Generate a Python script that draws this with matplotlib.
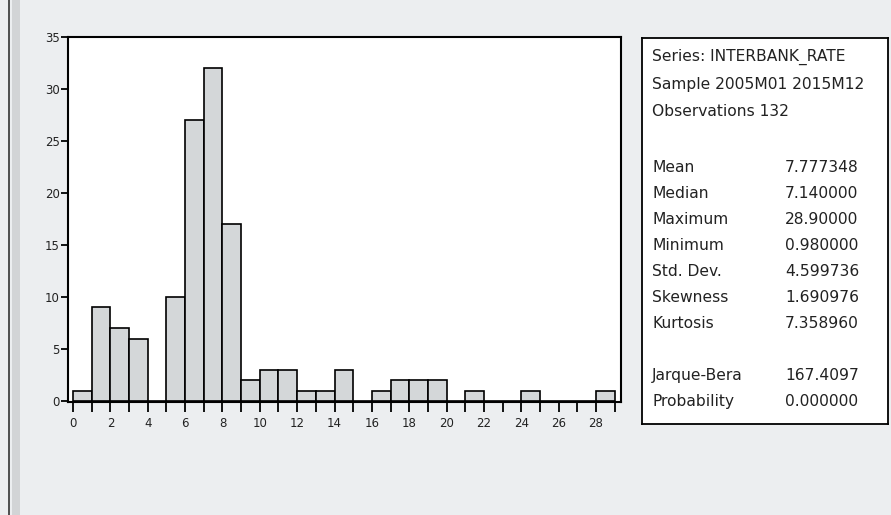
import numpy as np
import matplotlib.pyplot as plt
from matplotlib.patches import Rectangle
from matplotlib.lines import Line2D

# histogram of INTERBANK_RATE, bins of width 1 from 0 to 29
bin_left = np.arange(0, 29)
counts = [1, 9, 7, 6, 0, 10, 27, 32, 17, 2, 3, 3, 1, 1, 3, 0,
          1, 2, 2, 2, 0, 1, 0, 0, 1, 0, 0, 0, 1]

header = ["Series: INTERBANK_RATE", "Sample 2005M01 2015M12", "Observations 132"]
stat_names = ["Mean", "Median", "Maximum", "Minimum", "Std. Dev.", "Skewness",
              "Kurtosis", "", "Jarque-Bera", "Probability"]
stat_values = ["7.777348", "7.140000", "28.90000", "0.980000", "4.599736", "1.690976",
               "7.358960", "", "167.4097", "0.000000"]

plt.rcParams['font.family'] = ['DejaVu Sans']

W, H = 891, 515
fig = plt.figure(figsize=(W / 100, H / 100), dpi=100, facecolor='#eceef0')

# scanned-page decorations on the left edge
fig.add_artist(Rectangle((12 / W, 0), 8 / W, 1, transform=fig.transFigure,
                         facecolor='#d2d4d6', edgecolor='none'))
fig.add_artist(Line2D([8.5 / W, 8.5 / W], [0, 1], transform=fig.transFigure,
                      color='#333333', lw=1.2))

ax = fig.add_axes([68 / W, 1 - 402 / H, (621 - 68) / W, (402 - 37) / H])
ax.set_facecolor('white')
ax.bar(bin_left, counts, width=1, align='edge', color='#d4d7d9',
       edgecolor='black', linewidth=1.2)
ax.set_xlim(-0.27, 29.34)
ax.set_ylim(-0.1, 35)
ax.set_xticks(np.arange(0, 29, 2))
ax.set_xticks(np.arange(1, 30, 2), minor=True)
ax.set_yticks(np.arange(0, 36, 5))
ax.tick_params(axis='x', which='both', direction='out', length=7, width=1.3,
               labelsize=8.5, pad=4, labelcolor='#222222')
ax.tick_params(axis='y', direction='out', length=5, width=1.3, labelsize=8.5, pad=1,
               labelcolor='#222222')
for s in ax.spines.values():
    s.set_linewidth(1.5)

# statistics box
bx0, bx1, by0, by1 = 642, 888, 38, 424
box = fig.add_axes([bx0 / W, 1 - by1 / H, (bx1 - bx0) / W, (by1 - by0) / H])
box.set_facecolor('white')
box.set_xticks([])
box.set_yticks([])
for s in box.spines.values():
    s.set_linewidth(1.3)

def fy(y):
    return (by1 - y) / (by1 - by0)

lx = (652 - bx0) / (bx1 - bx0)
vx = (785 - bx0) / (bx1 - bx0)
for i, t in enumerate(header):
    box.text(lx, fy(57 + 27.5 * i), t, fontsize=11.2, va='center', ha='left',
             color='#222222')
for i, (n, v) in enumerate(zip(stat_names, stat_values)):
    y = fy(167 + 26.1 * i)
    box.text(lx, y, n, fontsize=11.2, va='center', ha='left', color='#222222')
    box.text(vx, y, v, fontsize=11.2, va='center', ha='left', color='#222222')

fig.savefig('out.png', dpi=100, facecolor=fig.get_facecolor())
